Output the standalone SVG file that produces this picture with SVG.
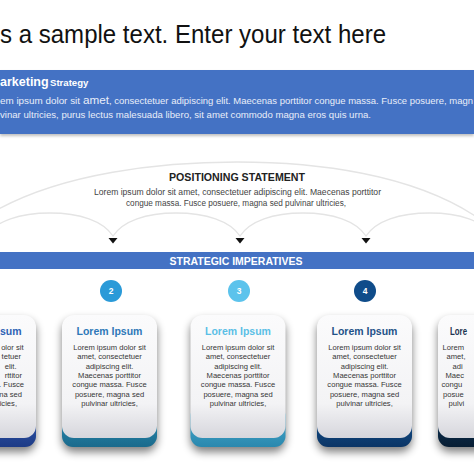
<svg xmlns="http://www.w3.org/2000/svg" width="474" height="474" viewBox="0 0 474 474">
  <style>
    .sans { font-family: "Liberation Sans", Arial, sans-serif; }
    .cal { font-family: "Liberation Sans", "Open Sans", sans-serif; }
    .title { font-size: 25px; fill: #111; }
    .hdrB { font-weight: bold; fill: #fff; }
    .bnr { font-size: 8.6px; fill: #e9eef9; }
    .bar { font-size: 10.4px; font-weight: bold; fill: #fff; }
    .pos { font-size: 10.5px; font-weight: bold; fill: #222; }
    .posb { font-size: 8.4px; fill: #444; }
    .num { font-size: 8.5px; font-weight: bold; fill: #fff; }
    .ct { font-size: 10.5px; font-weight: bold; text-anchor: middle; }
    .cb { font-size: 7.6px; fill: #363636; text-anchor: middle; }
    .ctE { font-size: 10.5px; font-weight: bold; text-anchor: end; }
    .cbE { font-size: 7.6px; fill: #363636; text-anchor: end; }
    .ctS { font-size: 10.5px; font-weight: bold; text-anchor: start; }
    .cbS { font-size: 7.6px; fill: #363636; text-anchor: start; }
    .arc { fill: none; stroke: #e4e4e4; stroke-width: 1.3; }
    .tri { fill: #111; }
    .shd { fill: #000; opacity: 0.5; }
  </style>
  <defs>
    <linearGradient id="cardG" x1="0" y1="0" x2="0" y2="1">
      <stop offset="0" stop-color="#fbfbfc"/>
      <stop offset="0.72" stop-color="#f3f3f5"/>
      <stop offset="1" stop-color="#d6d6dc"/>
    </linearGradient>
    <linearGradient id="b1" x1="0" y1="0" x2="0" y2="1"><stop offset="0" stop-color="#3760b8"/><stop offset="1" stop-color="#1d3b86"/></linearGradient>
    <linearGradient id="b2" x1="0" y1="0" x2="0" y2="1"><stop offset="0" stop-color="#2f96bd"/><stop offset="1" stop-color="#1a6a8c"/></linearGradient>
    <linearGradient id="b3" x1="0" y1="0" x2="0" y2="1"><stop offset="0" stop-color="#4fb2d6"/><stop offset="1" stop-color="#2a88ae"/></linearGradient>
    <linearGradient id="b4" x1="0" y1="0" x2="0" y2="1"><stop offset="0" stop-color="#175a98"/><stop offset="1" stop-color="#0b3566"/></linearGradient>
    <linearGradient id="b5" x1="0" y1="0" x2="0" y2="1"><stop offset="0" stop-color="#113c63"/><stop offset="1" stop-color="#071d33"/></linearGradient>
    <filter id="shadow" x="-30%" y="-30%" width="160%" height="160%">
      <feGaussianBlur stdDeviation="4"/>
    </filter>
    <filter id="bshadow" x="-10%" y="-30%" width="120%" height="160%">
      <feGaussianBlur stdDeviation="1.5"/>
    </filter>
  </defs>

  <rect width="474" height="474" fill="#fff"/>

  <g id="title">
    <text class="cal title" x="0" y="43" textLength="386" lengthAdjust="spacingAndGlyphs">s a sample text. Enter your text here</text>
  </g>

  <g id="banner">
    <rect x="0" y="72" width="474" height="64" fill="#000" opacity="0.25" filter="url(#bshadow)"/>
    <rect x="0" y="70" width="474" height="64" fill="#4472c4"/>
    <text class="sans hdrB" x="0" y="86"><tspan font-size="12.5">arketing</tspan><tspan x="50" font-size="9.6">Strategy</tspan></text>
    <text class="cal bnr" y="104"><tspan x="0" textLength="80" lengthAdjust="spacingAndGlyphs">em ipsum dolor sit</tspan><tspan x="83" font-size="11.5" textLength="26" lengthAdjust="spacingAndGlyphs">amet</tspan><tspan x="109" textLength="364" lengthAdjust="spacingAndGlyphs">, consectetuer adipiscing elit. Maecenas porttitor  congue massa. Fusce posuere, magn</tspan></text>
    <text class="cal bnr" x="0" y="118" textLength="371" lengthAdjust="spacingAndGlyphs">vinar ultricies, purus  lectus malesuada libero, sit amet commodo  magna eros quis urna.</text>
  </g>

  <g id="connectors">
    <path class="arc" d="M -10,214 C 60,172 165,162 237,162 C 310,162 415,172 484,222"/>
    <path class="arc" d="M -14,236 C -4,221 20,213 50,213 C 80,213 103,221 113,236 C 123,221 146,213 176,213 C 206,213 230,221 240,236 C 250,221 273,213 303,213 C 333,213 356,221 366,236 C 376,221 399,213 430,213 C 460,213 483,221 493,236"/>
    <polygon class="tri" points="108.5,238 117.5,238 113,243.5"/>
    <polygon class="tri" points="235.5,238 244.5,238 240,243.5"/>
    <polygon class="tri" points="361.5,238 370.5,238 366,243.5"/>
  </g>

  <g id="positioning">
    <text class="sans pos" x="237" y="181" text-anchor="middle" textLength="136" lengthAdjust="spacingAndGlyphs">POSITIONING STATEMENT</text>
    <text class="cal posb" x="237.5" y="195" text-anchor="middle" textLength="287" lengthAdjust="spacingAndGlyphs">Lorem ipsum dolor sit amet, consectetuer adipiscing elit. Maecenas porttitor</text>
    <text class="cal posb" x="236" y="206" text-anchor="middle" textLength="220" lengthAdjust="spacingAndGlyphs">congue massa. Fusce posuere, magna sed pulvinar ultricies,</text>
  </g>

  <g id="imperatives">
    <rect x="0" y="252" width="474" height="17" fill="#4472c4"/>
    <text class="sans bar" x="236" y="264.5" text-anchor="middle" textLength="133" lengthAdjust="spacingAndGlyphs">STRATEGIC IMPERATIVES</text>
  </g>

  <g id="step2">
    <circle cx="111" cy="291" r="11" fill="#2a9ad8"/>
    <text class="sans num" x="111" y="294" text-anchor="middle">2</text>
  </g>
  <g id="step3">
    <circle cx="239" cy="291" r="11" fill="#5cc3ec"/>
    <text class="sans num" x="239" y="294" text-anchor="middle">3</text>
  </g>
  <g id="step4">
    <circle cx="365" cy="291" r="11" fill="#0f4c8a"/>
    <text class="sans num" x="365" y="294" text-anchor="middle">4</text>
  </g>

  <g id="card1">
    <rect class="shd" x="-59" y="320" width="95" height="132" rx="12" filter="url(#shadow)"/>
    <rect x="-59" y="405" width="95" height="42" rx="11" fill="url(#b1)"/>
    <rect x="-59" y="315" width="95" height="123" rx="12" fill="url(#cardG)"/>
    <text class="sans ctE" x="21.5" y="335" fill="#2e62b4">sum</text>
    <text class="sans cbE" x="23.5" y="350">olor sit</text>
    <text class="sans cbE" x="21" y="359.3">tetuer</text>
    <text class="sans cbE" x="16.5" y="368.6">elit.</text>
    <text class="sans cbE" x="22" y="377.9">rttitor</text>
    <text class="sans cbE" x="24" y="387.2">. Fusce</text>
    <text class="sans cbE" x="22" y="396.5">na sed</text>
    <text class="sans cbE" x="17" y="405.8">icies,</text>
  </g>

  <g id="card2" transform="translate(109.5,0)">
    <rect class="shd" x="-47.5" y="320" width="95" height="132" rx="12" filter="url(#shadow)"/>
    <rect x="-47.5" y="405" width="95" height="42" rx="11" fill="url(#b2)"/>
    <rect x="-47.5" y="315" width="95" height="123" rx="12" fill="url(#cardG)"/>
    <text class="sans ct" x="0" y="335" fill="#2e78b8">Lorem Ipsum</text>
    <text class="sans cb" x="0" y="350">Lorem ipsum dolor sit</text>
    <text class="sans cb" x="0" y="359.3">amet, consectetuer</text>
    <text class="sans cb" x="0" y="368.6">adipiscing elit.</text>
    <text class="sans cb" x="0" y="377.9">Maecenas porttitor</text>
    <text class="sans cb" x="0" y="387.2">congue massa. Fusce</text>
    <text class="sans cb" x="0" y="396.5">posuere, magna sed</text>
    <text class="sans cb" x="0" y="405.8">pulvinar ultricies,</text>
  </g>

  <g id="card3" transform="translate(238,0)">
    <rect class="shd" x="-47.5" y="320" width="95" height="132" rx="12" filter="url(#shadow)"/>
    <rect x="-47.5" y="405" width="95" height="42" rx="11" fill="url(#b3)"/>
    <rect x="-47.5" y="315" width="95" height="123" rx="12" fill="url(#cardG)"/>
    <text class="sans ct" x="0" y="335" fill="#5bbfe6">Lorem Ipsum</text>
    <text class="sans cb" x="0" y="350">Lorem ipsum dolor sit</text>
    <text class="sans cb" x="0" y="359.3">amet, consectetuer</text>
    <text class="sans cb" x="0" y="368.6">adipiscing elit.</text>
    <text class="sans cb" x="0" y="377.9">Maecenas porttitor</text>
    <text class="sans cb" x="0" y="387.2">congue massa. Fusce</text>
    <text class="sans cb" x="0" y="396.5">posuere, magna sed</text>
    <text class="sans cb" x="0" y="405.8">pulvinar ultricies,</text>
  </g>

  <g id="card4" transform="translate(364.5,0)">
    <rect class="shd" x="-47.5" y="320" width="95" height="132" rx="12" filter="url(#shadow)"/>
    <rect x="-47.5" y="405" width="95" height="42" rx="11" fill="url(#b4)"/>
    <rect x="-47.5" y="315" width="95" height="123" rx="12" fill="url(#cardG)"/>
    <text class="sans ct" x="0" y="335" fill="#1f5288">Lorem Ipsum</text>
    <text class="sans cb" x="0" y="350">Lorem ipsum dolor sit</text>
    <text class="sans cb" x="0" y="359.3">amet, consectetuer</text>
    <text class="sans cb" x="0" y="368.6">adipiscing elit.</text>
    <text class="sans cb" x="0" y="377.9">Maecenas porttitor</text>
    <text class="sans cb" x="0" y="387.2">congue massa. Fusce</text>
    <text class="sans cb" x="0" y="396.5">posuere, magna sed</text>
    <text class="sans cb" x="0" y="405.8">pulvinar ultricies,</text>
  </g>

  <g id="card5">
    <rect class="shd" x="438" y="320" width="95" height="132" rx="12" filter="url(#shadow)"/>
    <rect x="438" y="405" width="95" height="42" rx="11" fill="url(#b5)"/>
    <rect x="438" y="315" width="95" height="123" rx="12" fill="url(#cardG)"/>
    <text class="sans ctS" x="450" y="335" fill="#1c3350" textLength="17" lengthAdjust="spacingAndGlyphs">Lore</text>
    <text class="sans cbS" x="442.5" y="350">Lorem</text>
    <text class="sans cbS" x="446.5" y="359.3">amet,</text>
    <text class="sans cbS" x="452.5" y="368.6">adi</text>
    <text class="sans cbS" x="445.5" y="377.9">Maec</text>
    <text class="sans cbS" x="441.5" y="387.2">congu</text>
    <text class="sans cbS" x="443" y="396.5">posue</text>
    <text class="sans cbS" x="448.5" y="405.8">pulvi</text>
  </g>
</svg>
